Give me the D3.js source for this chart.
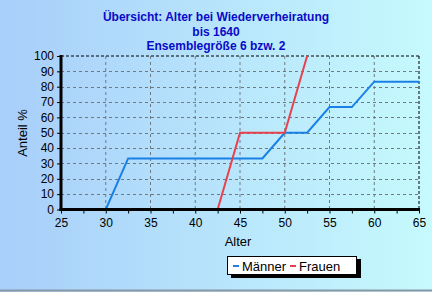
<!DOCTYPE html>
<html><head><meta charset="utf-8">
<script src="https://cdn.jsdelivr.net/npm/d3@7"></script>
<style>body{margin:0;}svg{display:block;font-family:"Liberation Sans",Arial,sans-serif;}</style>
</head><body>
<svg id="c" width="432" height="292"></svg>
<script>
const titleLines = ["Übersicht: Alter bei Wiederverheiratung", "bis 1640", "Ensemblegröße 6 bzw. 2"];
const xTicks = [25,30,35,40,45,50,55,60,65];
const yTicks = [0,10,20,30,40,50,60,70,80,90,100];
const maennerAge = [30, 32.5, 47.5, 50, 52.5, 55, 57.5, 60, 65];
const maennerVal = [0, 33.3, 33.3, 50, 50, 66.7, 66.7, 83.3, 83.3];
const frauenAge = [42.5, 45, 50, 52.5];
const frauenVal = [0, 50, 50, 100];
const seriesNames = ["Männer", "Frauen"];

const svg = d3.select("#c");
const W = 432, H = 292;
const defs = svg.append("defs");
const g1 = defs.append("linearGradient").attr("id","bg").attr("x1","0").attr("y1","0").attr("x2","1").attr("y2","0");
g1.append("stop").attr("offset","0").attr("stop-color","#a8cefa");
g1.append("stop").attr("offset","1").attr("stop-color","#c6fafd");
svg.append("rect").attr("width",W).attr("height",H).attr("fill","url(#bg)");
svg.append("line").attr("x1",0).attr("x2",W).attr("y1",290.5).attr("y2",290.5).attr("stroke","#8a98a6").attr("stroke-width",2);

const m = {l:61, r:419, t:56, b:209.5};
const x = d3.scaleLinear().domain([25,65]).range([m.l, m.r]);
const y = d3.scaleLinear().domain([0,100]).range([m.b, m.t]);

// grid
svg.append("g").selectAll("line").data(xTicks.slice(1,-1)).join("line")
  .attr("x1",d=>x(d)).attr("x2",d=>x(d)).attr("y1",m.t).attr("y2",m.b)
  .attr("stroke","#707880").attr("stroke-dasharray","3,3").attr("stroke-width",1);
svg.append("g").selectAll("line").data(yTicks.slice(1,-1)).join("line")
  .attr("x1",m.l).attr("x2",m.r).attr("y1",d=>Math.round(y(d))+0.5).attr("y2",d=>Math.round(y(d))+0.5)
  .attr("stroke","#707880").attr("stroke-dasharray","3,3").attr("stroke-width",1);
// top/right border dashed
svg.append("line").attr("x1",m.l).attr("x2",m.r).attr("y1",m.t).attr("y2",m.t).attr("stroke","#000").attr("stroke-dasharray","3,2");
svg.append("line").attr("x1",m.r).attr("x2",m.r).attr("y1",m.t).attr("y2",m.b).attr("stroke","#000").attr("stroke-dasharray","3,2");

// series
const line = d3.line().x(d=>x(d[0])).y(d=>y(d[1]));
svg.append("path").datum(maennerAge.map((a,i)=>[a,maennerVal[i]])).attr("d",line)
  .attr("fill","none").attr("stroke","#1a80e6").attr("stroke-width",2);
svg.append("path").datum(frauenAge.map((a,i)=>[a,frauenVal[i]])).attr("d",line)
  .attr("fill","none").attr("stroke","#e8414e").attr("stroke-width",2);

// axes
const xAxis = d3.axisBottom(x).tickValues(d3.range(25,65.1,2.5)).tickSize(4).tickFormat(d=>xTicks.includes(d)?d:"");
const gx = svg.append("g").attr("transform",`translate(0,${m.b})`).call(xAxis);
gx.select(".domain").remove();
gx.selectAll(".tick line").attr("stroke","#000");
gx.selectAll(".tick text").attr("font-size",12).attr("fill","#000").attr("dy","0.9em").attr("font-family","Liberation Sans, Arial, sans-serif");
const yAxis = d3.axisLeft(y).tickValues(yTicks).tickSize(4).tickPadding(3);
const gy = svg.append("g").attr("transform",`translate(${m.l},0)`).call(yAxis);
gy.select(".domain").remove();
gy.selectAll(".tick line").attr("stroke","#000");
gy.selectAll(".tick text").attr("font-size",12).attr("fill","#000").attr("font-family","Liberation Sans, Arial, sans-serif");
svg.append("line").attr("x1",m.l).attr("x2",m.l).attr("y1",m.t-1).attr("y2",m.b+1.5).attr("stroke","#000").attr("stroke-width",3);
svg.append("line").attr("x1",m.l-1.5).attr("x2",m.r+1).attr("y1",m.b).attr("y2",m.b).attr("stroke","#000").attr("stroke-width",3);

// titles
svg.append("g").selectAll("text").data(titleLines).join("text")
  .attr("x",216).attr("y",(d,i)=>21+i*14.5).attr("text-anchor","middle")
  .attr("font-size",12).attr("font-weight","bold").attr("fill","#0a0ac8").text(d=>d);
svg.append("text").attr("x",238).attr("y",246).attr("text-anchor","middle").attr("font-size",13).attr("fill","#000").text("Alter");
svg.append("text").attr("transform","translate(27,133) rotate(-90)").attr("text-anchor","middle").attr("font-size",13).attr("fill","#000").text("Anteil %");

// legend
const lg = svg.append("g");
lg.append("rect").attr("x",231).attr("y",259).attr("width",130).attr("height",19).attr("fill","#000");
lg.append("rect").attr("x",227.5).attr("y",256.5).attr("width",129).attr("height",18).attr("fill","#fff").attr("stroke","#000");
const colors = ["#1a80e6","#e8414e"];
const lx = [233, 290];
seriesNames.forEach((n,i)=>{
  lg.append("line").attr("x1",lx[i]).attr("x2",lx[i]+6).attr("y1",266).attr("y2",266).attr("stroke",colors[i]).attr("stroke-width",2);
  lg.append("text").attr("x",lx[i]+9).attr("y",271).attr("font-size",13).attr("fill","#000").text(n);
});
</script>
</body></html>
